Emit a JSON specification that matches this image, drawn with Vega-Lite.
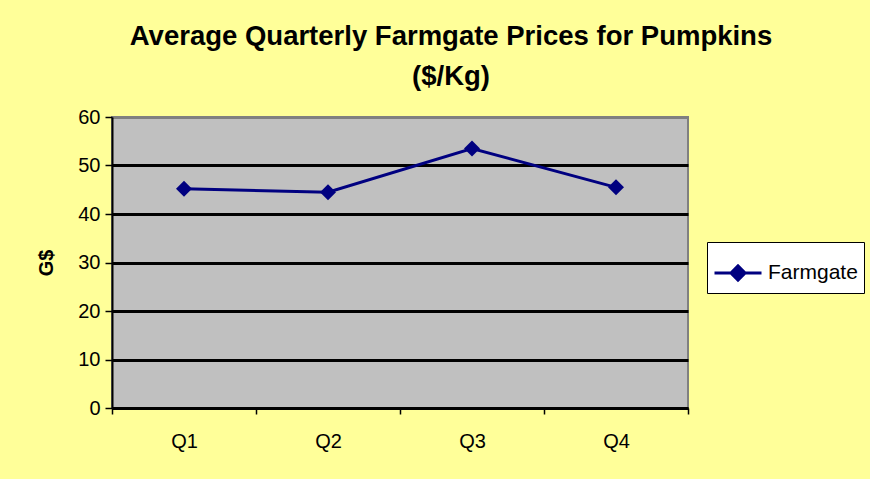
{
  "$schema": "https://vega.github.io/schema/vega-lite/v6.json",
  "autosize": {"type": "none"},
  "width": 576,
  "height": 291,
  "padding": {"left": 112, "top": 117, "right": 182, "bottom": 71},
  "background": "#FFFF99",
  "title": {
    "text": ["Average Quarterly Farmgate Prices for Pumpkins", "($/Kg)"],
    "font": "Liberation Sans",
    "fontSize": 27.5,
    "fontWeight": "bold",
    "color": "black",
    "lineHeight": 40,
    "anchor": "middle",
    "dx": 51,
    "offset": 17
  },
  "data": {
    "values": [
      {"quarter": "Q1", "price": 45.2, "series": "Farmgate"},
      {"quarter": "Q2", "price": 44.5, "series": "Farmgate"},
      {"quarter": "Q3", "price": 53.5, "series": "Farmgate"},
      {"quarter": "Q4", "price": 45.5, "series": "Farmgate"}
    ]
  },
  "mark": {"type": "line", "strokeWidth": 3, "point": {"shape": "diamond", "size": 256, "filled": true, "opacity": 1}},
  "encoding": {
    "x": {
      "field": "quarter",
      "type": "nominal",
      "scale": {"paddingInner": 0, "paddingOuter": 0},
      "axis": {
        "title": null,
        "labelAngle": 0,
        "tickBand": "extent",
        "domainColor": "black",
        "domainWidth": 2,
        "tickColor": "black",
        "tickWidth": 1.5,
        "tickSize": 6,
        "labelFont": "Liberation Sans",
        "labelFontSize": 20,
        "labelColor": "black",
        "labelPadding": 17,
        "grid": false
      }
    },
    "y": {
      "field": "price",
      "type": "quantitative",
      "scale": {"domain": [0, 60], "nice": false},
      "axis": {
        "title": "G$",
        "titleFont": "Liberation Sans",
        "titleFontSize": 20,
        "titleFontWeight": "bold",
        "titleColor": "black",
        "titlePadding": 21,
        "values": [0, 10, 20, 30, 40, 50, 60],
        "domainColor": "black",
        "domainWidth": 2,
        "tickColor": "black",
        "tickWidth": 1.5,
        "tickSize": 7,
        "labelFont": "Liberation Sans",
        "labelFontSize": 20,
        "labelColor": "black",
        "labelPadding": 5,
        "grid": true,
        "gridWidth": 3,
        "gridColor": {"condition": {"test": "datum.value === 60", "value": "#808080"}, "value": "black"}
      }
    },
    "color": {
      "field": "series",
      "type": "nominal",
      "scale": {"range": ["#000080"]},
      "legend": {
        "title": null,
        "orient": "none",
        "legendX": 595,
        "legendY": 125,
        "fillColor": "white",
        "strokeColor": "black",
        "padding": 6,
        "symbolType": "M-1,0H1M-0.3,0L0,-0.3L0.3,0L0,0.3Z",
        "symbolSize": 2209,
        "symbolStrokeWidth": 3,
        "symbolFillColor": "#000080",
        "symbolStrokeColor": "#000080",
        "labelFont": "Liberation Sans",
        "labelFontSize": 21,
        "labelColor": "black",
        "labelOffset": 5
      }
    }
  },
  "config": {
    "view": {"fill": "#C0C0C0", "stroke": "#808080", "strokeWidth": 2}
  }
}
